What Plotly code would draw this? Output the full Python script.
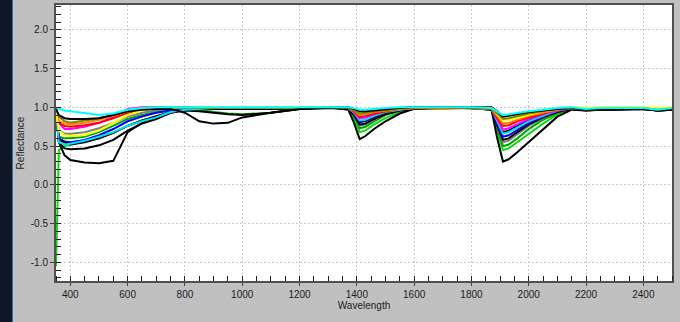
import plotly.graph_objects as go

wavelength = [350, 360, 380, 400, 450, 500, 550, 600, 650, 700, 750, 800, 850, 900, 950, 1000,
              1100, 1200, 1300, 1370, 1390, 1410, 1430, 1460, 1500, 1550, 1600, 1700, 1800,
              1870, 1890, 1910, 1930, 1960, 2000, 2050, 2100, 2150, 2200, 2250, 2300, 2400, 2450, 2500]

cyan_top = [1.00, 0.98, 0.96, 0.95, 0.93, 0.90, 0.92, 0.97, 0.99, 1.00, 1.00, 1.00, 1.00, 1.00, 1.00, 1.00,
            1.00, 1.00, 1.00, 1.00, 0.99, 0.97, 0.97, 0.98, 0.99, 1.00, 1.00, 1.00, 1.00,
            0.99, 0.95, 0.90, 0.91, 0.93, 0.95, 0.97, 0.99, 1.00, 0.98, 0.99, 0.99, 0.99, 0.97, 0.99]
black_c = [0.98, 0.90, 0.86, 0.85, 0.85, 0.86, 0.90, 0.95, 0.97, 0.98, 0.98, 0.93, 0.82, 0.79, 0.80, 0.87,
           0.93, 0.98, 0.99, 1.00, 0.98, 0.95, 0.95, 0.96, 0.98, 0.99, 1.00, 1.00, 1.00,
           1.00, 0.95, 0.88, 0.89, 0.91, 0.94, 0.96, 0.98, 0.99, 0.97, 0.98, 0.98, 0.98, 0.96, 0.97]
olive = [0.99, 0.88, 0.82, 0.80, 0.83, 0.86, 0.90, 0.96, 0.99, 1.00, 1.00, 1.00, 0.99, 0.99, 0.99, 0.99,
         0.99, 0.99, 1.00, 0.99, 0.96, 0.92, 0.93, 0.95, 0.97, 0.99, 1.00, 1.00, 0.99,
         0.98, 0.92, 0.85, 0.86, 0.89, 0.92, 0.95, 0.98, 0.99, 0.97, 0.98, 0.98, 0.99, 0.97, 0.98]
yellow = [0.95, 0.70, 0.64, 0.63, 0.64, 0.70, 0.80, 0.90, 0.96, 0.99, 1.00, 1.00, 1.00, 1.00, 1.00, 1.00,
          1.00, 1.00, 1.00, 1.00, 0.98, 0.94, 0.95, 0.96, 0.98, 0.99, 1.00, 1.00, 1.00,
          0.99, 0.91, 0.83, 0.84, 0.87, 0.91, 0.95, 0.98, 1.00, 0.99, 1.00, 1.00, 1.00, 0.99, 1.00]
orange = [0.97, 0.82, 0.79, 0.78, 0.80, 0.84, 0.89, 0.95, 0.98, 0.99, 1.00, 1.00, 1.00, 0.99, 0.99, 0.99,
          0.99, 1.00, 1.00, 0.99, 0.96, 0.90, 0.91, 0.94, 0.96, 0.98, 0.99, 0.98, 0.99,
          0.98, 0.89, 0.79, 0.80, 0.84, 0.89, 0.93, 0.97, 0.99, 0.98, 0.99, 0.99, 0.99, 0.98, 0.99]
red = [0.97, 0.80, 0.76, 0.75, 0.77, 0.80, 0.86, 0.93, 0.97, 0.99, 1.00, 1.00, 1.00, 1.00, 0.99, 0.99,
       0.99, 1.00, 1.00, 0.99, 0.95, 0.88, 0.89, 0.92, 0.95, 0.98, 0.99, 1.00, 0.99,
       0.98, 0.87, 0.76, 0.77, 0.82, 0.87, 0.92, 0.97, 0.99, 0.98, 0.99, 0.99, 0.99, 0.97, 0.99]
magenta = [0.96, 0.80, 0.72, 0.72, 0.75, 0.80, 0.88, 0.98, 1.00, 1.00, 1.00, 1.00, 1.00, 1.00, 1.00, 1.00,
           1.00, 1.00, 1.00, 0.99, 0.94, 0.86, 0.87, 0.91, 0.95, 0.98, 0.99, 1.00, 1.00,
           0.98, 0.85, 0.71, 0.73, 0.78, 0.85, 0.91, 0.96, 0.99, 0.98, 0.99, 0.99, 0.99, 0.98, 0.99]
cyan_low = [0.95, 0.55, 0.52, 0.53, 0.57, 0.62, 0.68, 0.76, 0.82, 0.87, 0.94, 0.97, 0.98, 0.99, 0.99, 0.99,
            0.99, 1.00, 1.00, 0.99, 0.93, 0.83, 0.84, 0.89, 0.94, 0.97, 0.99, 1.00, 0.99,
            0.98, 0.82, 0.66, 0.68, 0.74, 0.82, 0.89, 0.96, 0.99, 0.98, 0.99, 0.99, 0.99, 0.98, 0.99]
black_d = [0.95, 0.58, 0.55, 0.52, 0.55, 0.60, 0.67, 0.76, 0.83, 0.88, 0.94, 0.97, 0.98, 0.98, 0.98, 0.98,
           0.98, 0.99, 1.00, 0.99, 0.92, 0.82, 0.83, 0.88, 0.93, 0.97, 0.99, 0.99, 0.99,
           0.98, 0.81, 0.68, 0.70, 0.76, 0.83, 0.90, 0.96, 0.99, 0.97, 0.98, 0.98, 0.98, 0.96, 0.97]
blue = [0.95, 0.60, 0.56, 0.55, 0.58, 0.64, 0.72, 0.82, 0.88, 0.93, 0.96, 0.98, 0.99, 0.99, 0.99, 0.99,
        0.99, 1.00, 1.00, 0.99, 0.92, 0.81, 0.82, 0.87, 0.93, 0.97, 0.99, 1.00, 0.99,
        0.98, 0.79, 0.62, 0.64, 0.71, 0.80, 0.88, 0.95, 0.99, 0.98, 0.99, 0.99, 0.99, 0.98, 0.99]
black_a = [0.95, 0.55, 0.38, 0.32, 0.29, 0.28, 0.31, 0.68, 0.80, 0.86, 0.93, 0.96, 0.95, 0.93, 0.91, 0.90,
           0.93, 0.98, 0.99, 0.98, 0.90, 0.78, 0.79, 0.85, 0.91, 0.96, 0.98, 0.99, 0.99,
           0.97, 0.76, 0.58, 0.60, 0.68, 0.78, 0.87, 0.94, 0.98, 0.96, 0.97, 0.97, 0.98, 0.96, 0.97]
gray = [0.95, 0.70, 0.66, 0.66, 0.68, 0.73, 0.80, 0.88, 0.93, 0.96, 0.98, 0.99, 0.99, 0.99, 0.99, 0.99,
        0.99, 1.00, 1.00, 0.99, 0.90, 0.76, 0.78, 0.84, 0.91, 0.96, 0.99, 0.99, 0.99,
        0.98, 0.75, 0.55, 0.57, 0.65, 0.76, 0.86, 0.94, 0.98, 0.98, 0.99, 0.99, 0.99, 0.98, 0.99]
green_dark = [0.95, 0.62, 0.60, 0.60, 0.62, 0.68, 0.76, 0.85, 0.90, 0.94, 0.97, 0.98, 0.97, 0.94, 0.92, 0.91,
              0.93, 0.98, 1.00, 0.99, 0.89, 0.73, 0.75, 0.82, 0.90, 0.96, 0.99, 0.99, 0.99,
              0.98, 0.73, 0.50, 0.52, 0.60, 0.72, 0.84, 0.93, 0.98, 0.97, 0.98, 0.98, 0.99, 0.97, 0.98]
green = [-1.05, 0.45, 0.50, 0.52, 0.56, 0.60, 0.67, 0.76, 0.83, 0.88, 0.94, 0.97, 0.98, 0.98, 0.98, 0.98,
         0.98, 0.99, 1.00, 0.98, 0.85, 0.68, 0.70, 0.78, 0.86, 0.94, 0.98, 0.99, 0.99,
         0.97, 0.68, 0.45, 0.47, 0.55, 0.66, 0.79, 0.91, 0.98, 0.97, 0.98, 0.98, 0.99, 0.97, 0.98]
black_b = [0.95, 0.55, 0.47, 0.46, 0.47, 0.51, 0.58, 0.70, 0.79, 0.85, 0.93, 0.97, 0.98, 0.98, 0.98, 0.98,
           0.98, 0.99, 1.00, 0.97, 0.80, 0.59, 0.63, 0.72, 0.82, 0.92, 0.98, 0.99, 0.99,
           0.97, 0.60, 0.30, 0.33, 0.42, 0.55, 0.72, 0.88, 0.97, 0.96, 0.97, 0.97, 0.98, 0.96, 0.97]

series = [
    (green, "#00e000"), (green_dark, "#00a000"), (gray, "#808080"), (black_b, "#000000"),
    (black_a, "#000000"), (blue, "#0000ff"), (black_d, "#000000"), (cyan_low, "#00e0ff"),
    (magenta, "#ff00ff"), (red, "#ff0000"), (orange, "#ff8000"), (yellow, "#ffff00"),
    (olive, "#808000"), (black_c, "#000000"), (cyan_top, "#00ffff"),
]

fig = go.Figure()
for vals, col in series:
    fig.add_trace(go.Scatter(x=wavelength, y=vals, mode="lines",
                             line=dict(color=col, width=2), showlegend=False, hoverinfo="skip"))

axis_font = dict(family="Liberation Sans, Arial, sans-serif", size=10, color="#202020")
fig.update_layout(
    width=680, height=322,
    margin=dict(l=56, r=8, t=5, b=41),
    paper_bgcolor="#c0c0c0",
    plot_bgcolor="#ffffff",
    font=axis_font,
    xaxis=dict(range=[350, 2500], tickmode="array",
               tickvals=[400, 600, 800, 1000, 1200, 1400, 1600, 1800, 2000, 2200, 2400],
               ticks="outside", ticklen=3, tickcolor="#404040",
               showgrid=True, gridcolor="#c8c8c8", griddash="2px,2px", gridwidth=1,
               showline=True, linecolor="#505050", linewidth=2, mirror=True,
               zeroline=False, tickfont=axis_font, automargin=False,
               minor=dict(dtick=50, tick0=0, ticks="inside", ticklen=5, tickcolor="#202020", showgrid=False),
               title=dict(text="Wavelength", font=axis_font, standoff=2)),
    yaxis=dict(range=[-1.24, 2.32], tickmode="array",
               tickvals=[-1.0, -0.5, 0.0, 0.5, 1.0, 1.5, 2.0],
               ticktext=["-1.0", "-0.5", "0.0", "0.5", "1.0", "1.5", "2.0"],
               ticks="outside", ticklen=4, tickcolor="#404040",
               showgrid=True, gridcolor="#c8c8c8", griddash="2px,2px", gridwidth=1,
               showline=True, linecolor="#505050", linewidth=2, mirror=True,
               zeroline=False, tickfont=axis_font, automargin=False,
               minor=dict(dtick=0.1, tick0=0, ticks="inside", ticklen=5, tickcolor="#202020", showgrid=False),
               title=dict(text="Reflectance", font=axis_font, standoff=4)),
    shapes=[
        dict(type="rect", xref="paper", yref="paper", x0=-56/616, x1=-44/616,
             y0=-41/276, y1=1 + 5/276, fillcolor="#101828", line=dict(width=0), layer="above"),
        dict(type="line", xref="paper", yref="paper", x0=-43.5/616, x1=-43.5/616,
             y0=-41/276, y1=1 + 5/276, line=dict(color="#3070c0", width=1)),
    ],
)

fig.write_html("out.html", config={"displayModeBar": False},
               post_script="document.body.style.margin='0';document.body.style.background='#c0c0c0';")
